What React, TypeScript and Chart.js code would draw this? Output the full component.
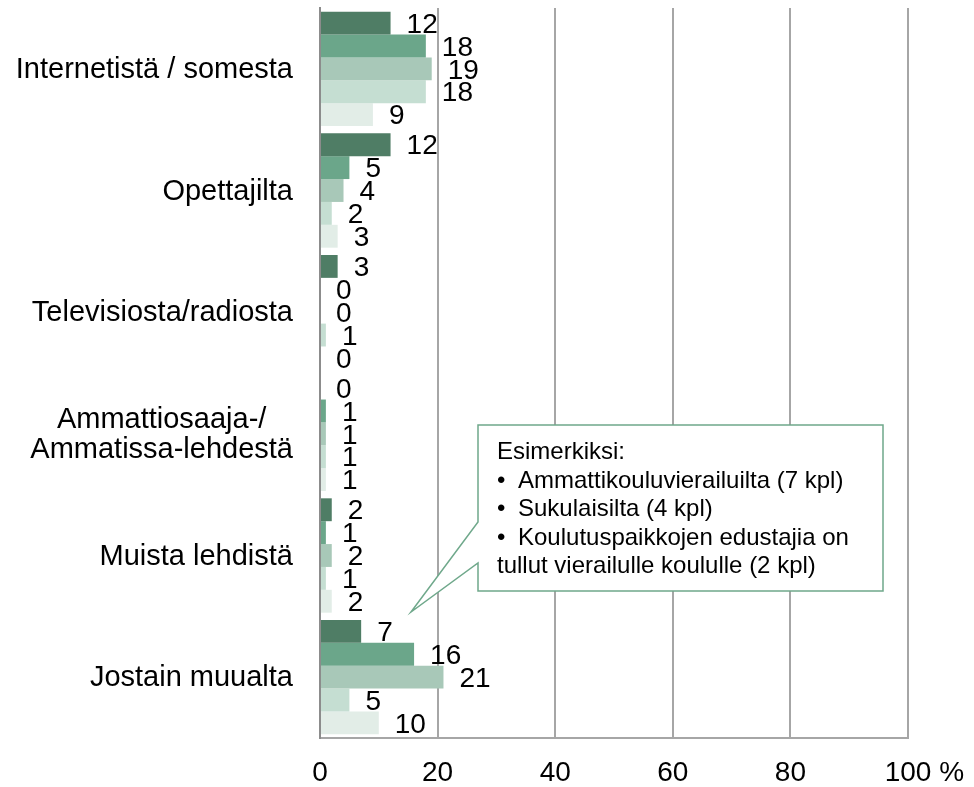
import React, { useEffect, useRef } from 'react';
import { Chart, registerables } from 'chart.js';

Chart.register(...registerables);

const categories: string[][] = [
  ['Internetistä / somesta'],
  ['Opettajilta'],
  ['Televisiosta/radiosta'],
  ['Ammattiosaaja-/', 'Ammatissa-lehdestä'],
  ['Muista lehdistä'],
  ['Jostain muualta'],
];

const series1 = [12, 12, 3, 0, 2, 7];
const series2 = [18, 5, 0, 1, 1, 16];
const series3 = [19, 4, 0, 1, 2, 21];
const series4 = [18, 2, 1, 1, 1, 5];
const series5 = [9, 3, 0, 1, 2, 10];

const seriesNames = ['Sarja 1', 'Sarja 2', 'Sarja 3', 'Sarja 4', 'Sarja 5'];
const seriesColors = ['#4f7d65', '#6ba68a', '#a8c8b8', '#c5ded2', '#e2ede7'];

const xTicks = [0, 20, 40, 60, 80, 100];
const xTickLabels = ['0', '20', '40', '60', '80', '100'];
const xUnit = ' %';

const calloutTitle = 'Esimerkiksi:';
const calloutBullets = [
  'Ammattikouluvierailuilta (7 kpl)',
  'Sukulaisilta (4 kpl)',
  'Koulutuspaikkojen edustajia on',
];
const calloutTail = 'tullut vierailulle koululle (2 kpl)';

const FONT = '"Liberation Sans", Arial, sans-serif';

const labelsPlugin = {
  id: 'customLabels',
  afterDatasetsDraw(chart: any) {
    const ctx = chart.ctx;
    ctx.save();
    ctx.font = `28px ${FONT}`;
    ctx.fillStyle = '#000';
    ctx.textAlign = 'left';
    ctx.textBaseline = 'middle';
    chart.data.datasets.forEach((ds: any, di: number) => {
      const meta = chart.getDatasetMeta(di);
      meta.data.forEach((el: any, i: number) => {
        ctx.fillText(String(ds.data[i]), el.x + 16, el.y + 2);
      });
    });
    ctx.restore();
  },
  afterDraw(chart: any) {
    const ctx = chart.ctx;
    const ca = chart.chartArea;
    const yScale = chart.scales.y;
    const xScale = chart.scales.x;
    ctx.save();
    // category labels
    ctx.font = `29px ${FONT}`;
    ctx.fillStyle = '#000';
    ctx.textBaseline = 'middle';
    ctx.textAlign = 'center';
    const lineH = 29.5;
    const right = ca.left - 27;
    categories.forEach((lines, i) => {
      const cy = yScale.getPixelForValue(i) + 1;
      const maxW = Math.max(...lines.map((l) => ctx.measureText(l).width));
      const cx = right - maxW / 2;
      const startY = cy - ((lines.length - 1) * lineH) / 2;
      lines.forEach((l, j) => {
        ctx.fillText(l, cx, startY + j * lineH);
      });
    });
    // x tick labels
    ctx.font = `28px ${FONT}`;
    const ty = ca.bottom + 35;
    xTicks.forEach((v, i) => {
      const px = xScale.getPixelForValue(v);
      const txt = xTickLabels[i];
      ctx.textAlign = 'center';
      ctx.fillText(txt, px, ty);
      if (i === xTicks.length - 1) {
        const w = ctx.measureText(txt).width;
        ctx.textAlign = 'left';
        ctx.fillText(xUnit, px + w / 2, ty);
      }
    });

    // callout
    const L = ca.left + 158;
    const R = ca.left + 563;
    const T = ca.top + 417;
    const B = ca.top + 583;
    const tipX = ca.left + 91;
    const tipY = ca.top + 604;
    ctx.beginPath();
    ctx.moveTo(L, T);
    ctx.lineTo(R, T);
    ctx.lineTo(R, B);
    ctx.lineTo(L, B);
    ctx.lineTo(L, ca.top + 555);
    ctx.lineTo(tipX, tipY);
    ctx.lineTo(L, ca.top + 514);
    ctx.closePath();
    ctx.fillStyle = '#ffffff';
    ctx.fill();
    ctx.strokeStyle = '#6fa88b';
    ctx.lineWidth = 1.5;
    ctx.stroke();

    ctx.font = `24px ${FONT}`;
    ctx.fillStyle = '#000';
    ctx.textAlign = 'left';
    ctx.textBaseline = 'alphabetic';
    const tx = L + 19;
    const base = ca.top + 451;
    const step = 28.5;
    ctx.fillText(calloutTitle, tx, base);
    calloutBullets.forEach((b, i) => {
      ctx.fillText('•', tx, base + (i + 1) * step);
      ctx.fillText(b, tx + 21, base + (i + 1) * step);
    });
    ctx.fillText(calloutTail, tx, base + 4 * step);
    ctx.restore();
  },
};

export default function App() {
  const ref = useRef<HTMLCanvasElement | null>(null);
  useEffect(() => {
    if (!ref.current) return;
    const allSeries = [series1, series2, series3, series4, series5];
    const chart = new Chart(ref.current, {
      type: 'bar',
      data: {
        labels: categories.map((c) => c.join(' ')),
        datasets: allSeries.map((d, i) => ({
          label: seriesNames[i],
          data: d,
          backgroundColor: seriesColors[i],
          borderWidth: 0,
          categoryPercentage: 0.94,
          barPercentage: 1.0,
        })),
      },
      options: {
        indexAxis: 'y',
        responsive: false,
        animation: false,
        maintainAspectRatio: false,
        layout: { padding: { top: 8, right: 66, left: 0, bottom: 0 } },
        plugins: {
          legend: { display: false },
          tooltip: { enabled: false },
        },
        scales: {
          x: {
            min: 0,
            max: 100,
            ticks: { display: false, stepSize: 20 },
            grid: { color: '#a6a6a6', lineWidth: 2, drawTicks: false },
            border: { display: true, color: '#a6a6a6', width: 2 },
            afterFit: (s: any) => {
              s.height = 49;
            },
          },
          y: {
            ticks: { display: false },
            grid: { display: false, drawTicks: false },
            border: { display: true, color: '#8c8c8c', width: 2 },
            afterFit: (s: any) => {
              s.width = 320;
            },
          },
        },
      },
      plugins: [labelsPlugin],
    } as any);
    return () => chart.destroy();
  }, []);
  return (
    <div style={{ position: 'absolute', left: 0, top: 0, width: 974, height: 787, background: '#fff' }}>
      <canvas ref={ref} width={974} height={787} style={{ width: 974, height: 787, display: 'block' }} />
    </div>
  );
}
